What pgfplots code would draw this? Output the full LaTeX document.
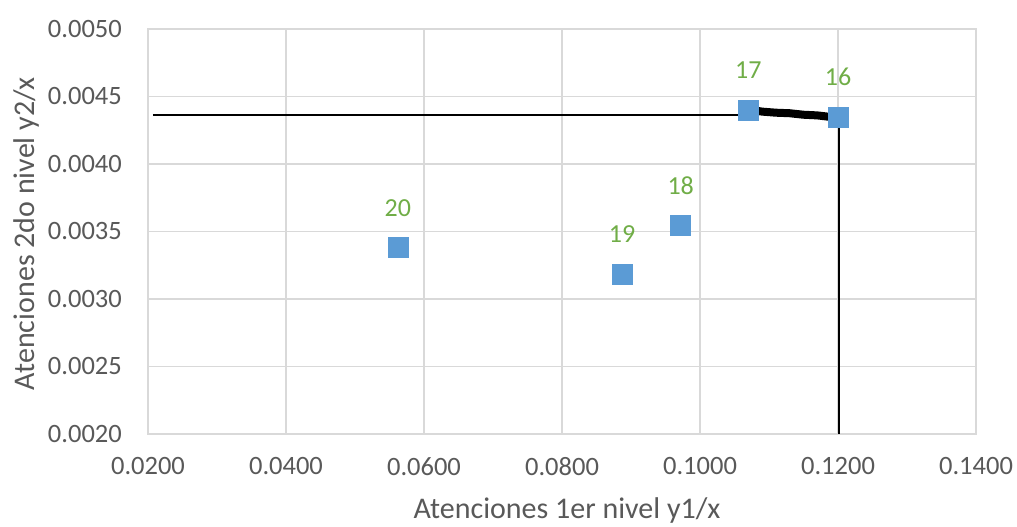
\documentclass[border=0pt]{standalone}
\usepackage{pgfplots}
\pgfplotsset{compat=1.18}
\usepackage{fontspec}
\setmainfont{Carlito}
\definecolor{tickgray}{HTML}{595959}
\definecolor{gridgray}{HTML}{D9D9D9}
\definecolor{mblue}{HTML}{5B9BD5}
\definecolor{lgreen}{HTML}{70AD47}
\begin{document}
\begin{tikzpicture}
\useasboundingbox (-148pt,-93pt) rectangle (869pt,434pt);
\begin{axis}[
  scale only axis,
  width=828pt, height=405pt,
  xmin=0.02, xmax=0.14, ymin=0.002, ymax=0.005,
  xtick={0.02,0.04,...,0.14},
  ytick={0.002,0.0025,0.003,0.0035,0.004,0.0045,0.005},
  grid=major,
  major grid style={draw=gridgray, line width=1.5pt},
  axis line style={draw=gridgray, line width=1.5pt},
  major tick length=0pt,
  tick style={draw=none},
  /pgf/number format/assume math mode=true,
  xticklabel={\pgfmathprintnumber[fixed,fixed zerofill,precision=4]{\tick}},
  yticklabel={\pgfmathprintnumber[fixed,fixed zerofill,precision=4]{\tick}},
  scaled x ticks=false, scaled y ticks=false,
  ticklabel style={font=\fontsize{26.5}{30}\selectfont, text=tickgray},
  yticklabel style={anchor=east, inner sep=0pt, xshift=-26pt},
  xticklabel style={anchor=north, inner sep=0pt, yshift=-23pt},
  xlabel={Atenciones 1er nivel y1/x},
  ylabel={Atenciones 2do nivel y2/x},
  label style={font=\fontsize{30}{34}\selectfont, text=tickgray},
  xlabel style={at={(axis description cs:0.506,-0.19)}, anchor=center},
  ylabel style={at={(axis description cs:-0.1473,0.495)}, anchor=center},
  clip=false,
]
% thin reference lines
\addplot[black, line width=2pt] coordinates {(0.0207,0.004365) (0.1065,0.004365)};
\addplot[black, line width=2pt] coordinates {(0.1201,0.004350) (0.1201,0.002)};
% data points
\addplot[only marks, color=mblue, mark=square*, mark size=10pt, mark options={fill=mblue, draw=mblue},
  point meta=explicit symbolic,
  nodes near coords,
  nodes near coords style={anchor=center, yshift=40pt, font=\fontsize{26}{30}\selectfont, text=lgreen},
] coordinates {
  (0.1200,0.004350) [16]
  (0.1070,0.004402) [17]
  (0.0972,0.003546) [18]
  (0.0887,0.003185) [19]
  (0.0562,0.003380) [20]
};
% thick black curve
\addplot[black, line width=8pt, line cap=round] coordinates {
  (0.1075,0.004400) (0.1090,0.004388) (0.1110,0.004380) (0.1130,0.004376)
  (0.1150,0.004365) (0.1170,0.004360) (0.1195,0.004345)
};
\end{axis}
\end{tikzpicture}
\end{document}
